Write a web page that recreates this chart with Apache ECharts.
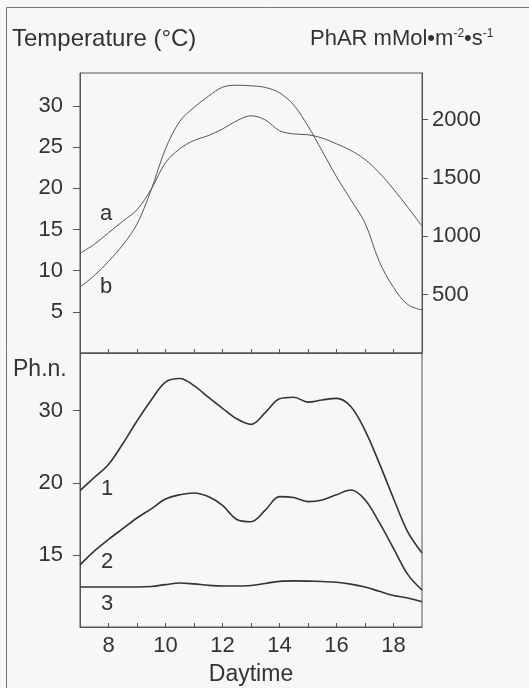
<!DOCTYPE html>
<html><head><meta charset="utf-8">
<script src="https://cdn.jsdelivr.net/npm/echarts@6/dist/echarts.min.js"></script>
<style>html,body{margin:0;padding:0;background:#f7f7f7}#c{width:529px;height:688px}</style>
</head><body><div id="c"></div>
<script>
// Daytime (hours)
const hours = [7,7.5,8,8.5,9,9.5,10,10.5,11,11.5,12,12.5,13,13.5,14,14.5,15,15.5,16,16.5,17,17.5,18,18.5,19];
// a: Temperature (°C)
const tempA = [12.1,13.2,14.6,16.0,17.4,19.9,23.1,24.8,25.8,26.4,27.2,28.2,28.8,28.3,27.0,26.6,26.5,26.1,25.4,24.6,23.5,21.9,19.9,17.7,15.4];
// b: PhAR mMol m-2 s-1
const pharB = [566,663,785,925,1105,1400,1750,1985,2105,2200,2278,2295,2290,2276,2230,2125,1945,1730,1510,1315,1114,785,562,415,369];
// Ph.n. curves 1,2,3
const ph1 = [19.3,20.5,21.85,24.4,28.0,32.4,37.4,38.6,36.3,33.1,30.5,28.4,27.4,29.6,32.7,33.1,31.9,32.4,32.8,30.9,26.4,22.0,18.65,16.3,15.1];
const ph2 = [14.5,15.2,15.85,16.5,17.2,17.85,18.6,18.95,19.1,18.8,18.1,17.1,16.95,17.75,18.8,18.72,18.4,18.53,18.95,19.35,18.55,16.9,15.35,14.05,13.37];
const ph3 = [13.5,13.5,13.5,13.5,13.5,13.52,13.6,13.67,13.63,13.57,13.54,13.54,13.56,13.65,13.74,13.76,13.75,13.73,13.7,13.62,13.5,13.32,13.15,13.05,12.9];
// tick labels
const tempTicks = [5,10,15,20,25,30];
const pharTicks = [500,1000,1500,2000];
const phTicks = [15,20,30];
const hourTicks = [8,9,10,11,12,13,14,15,16,17,18];
const hourLabels = [8,10,12,14,16,18];

// Ph.n. axis is a reciprocal scale
const K = 60;
const toR = v => -K / v;
const fromR = t => Math.round(-K / t);

const FONT = "'Liberation Sans', Arial, sans-serif";
const TXT = '#333';
const AX = '#555';

const chart = echarts.init(document.getElementById('c'), null, {renderer:'canvas'});

const xBase = (gi, showLabels) => ({
  type:'value', gridIndex:gi, min:7, max:19,
  axisLine:{show:true, lineStyle:{color:AX, width:1}},
  axisTick:{show:true, inside:true, length:4, customValues:hourTicks, lineStyle:{color:AX}},
  axisLabel:{show:showLabels, customValues:hourLabels, margin:8, fontSize:22, fontFamily:FONT, color:TXT},
  splitLine:{show:false}
});

const option = {
  backgroundColor:'#f7f7f7',
  animation:false,
  grid:[
    {left:80, right:107, top:73, height:280, show:true, borderColor:AX, borderWidth:1, backgroundColor:'transparent'},
    {left:80, right:107, top:353, height:274, show:true, borderColor:AX, borderWidth:1, backgroundColor:'transparent'}
  ],
  xAxis:[
    xBase(0,false),
    Object.assign(xBase(1,true), {name:'Daytime', nameLocation:'middle', nameGap:36,
      nameTextStyle:{fontSize:23, fontFamily:FONT, color:TXT}})
  ],
  yAxis:[
    {type:'value', gridIndex:0, min:0, max:34, position:'left',
      axisLine:{show:true, lineStyle:{color:AX}},
      axisTick:{show:true, length:7, customValues:tempTicks, lineStyle:{color:AX}},
      axisLabel:{customValues:tempTicks, margin:17, fontSize:22, fontFamily:FONT, color:TXT},
      splitLine:{show:false}},
    {type:'value', gridIndex:0, min:0, max:2400, position:'right',
      axisLine:{show:true, lineStyle:{color:AX}},
      axisTick:{show:true, length:6, customValues:pharTicks, lineStyle:{color:AX}},
      axisLabel:{customValues:pharTicks, margin:10, fontSize:22, fontFamily:FONT, color:TXT,
        formatter: v => String(v)},
      splitLine:{show:false}},
    {type:'value', gridIndex:1, min:-5, max:-1.2, position:'left',
      axisLine:{show:true, lineStyle:{color:AX}},
      axisTick:{show:true, length:7, customValues:phTicks.map(toR), lineStyle:{color:AX}},
      axisLabel:{customValues:phTicks.map(toR), margin:17, fontSize:22, fontFamily:FONT, color:TXT,
        formatter: t => String(fromR(t))},
      splitLine:{show:false}}
  ],
  series:[
    {name:'a', type:'line', xAxisIndex:0, yAxisIndex:0, smooth:0.35, symbol:'none',
      lineStyle:{color:'#555', width:1}, data:hours.map((h,i)=>[h,tempA[i]])},
    {name:'b', type:'line', xAxisIndex:0, yAxisIndex:1, smooth:0.35, symbol:'none',
      lineStyle:{color:'#555', width:1}, data:hours.map((h,i)=>[h,pharB[i]])},
    {name:'1', type:'line', xAxisIndex:1, yAxisIndex:2, smooth:0.35, symbol:'none',
      lineStyle:{color:'#333', width:1.6}, data:hours.map((h,i)=>[h,toR(ph1[i])])},
    {name:'2', type:'line', xAxisIndex:1, yAxisIndex:2, smooth:0.35, symbol:'none',
      lineStyle:{color:'#333', width:1.6}, data:hours.map((h,i)=>[h,toR(ph2[i])])},
    {name:'3', type:'line', xAxisIndex:1, yAxisIndex:2, smooth:0.35, symbol:'none',
      lineStyle:{color:'#333', width:1.6}, data:hours.map((h,i)=>[h,toR(ph3[i])])}
  ],
  graphic:[
    {type:'rect', silent:true, z:-1, shape:{x:6.5, y:7.5, width:600, height:700},
      style:{fill:'none', stroke:'#777', lineWidth:1}},
    {type:'text', left:12, top:27, style:{text:'Temperature (°C)', font:'24px '+FONT, fill:TXT}},
    {type:'text', left:310, top:28, style:{
      text:'PhAR mMol•m{s|-2}•s{s|-1}', font:'22px '+FONT, fill:TXT,
      rich:{s:{fontSize:12, fontFamily:FONT, fill:TXT, verticalAlign:'top', lineHeight:22}}}},
    {type:'text', left:13, top:358, style:{text:'Ph.n.', font:'23px '+FONT, fill:TXT}},
    {type:'text', left:100, top:203, style:{text:'a', font:'22px '+FONT, fill:TXT}},
    {type:'text', left:100, top:276, style:{text:'b', font:'22px '+FONT, fill:TXT}},
    {type:'text', left:101, top:478, style:{text:'1', font:'22px '+FONT, fill:TXT}},
    {type:'text', left:101, top:551, style:{text:'2', font:'22px '+FONT, fill:TXT}},
    {type:'text', left:101, top:593, style:{text:'3', font:'22px '+FONT, fill:TXT}}
  ]
};
chart.setOption(option);
</script></body></html>
